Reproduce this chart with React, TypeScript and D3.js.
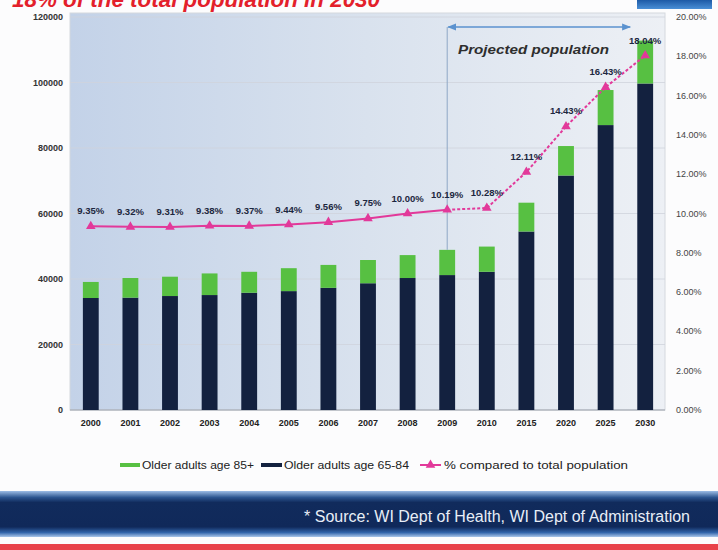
import React from 'react';
import * as d3 from 'd3';

// values
const years = ['2000', '2001', '2002', '2003', '2004', '2005', '2006', '2007', '2008', '2009', '2010', '2015', '2020', '2025', '2030'];
const age6584 = [34200, 34300, 34800, 35100, 35800, 36300, 37300, 38700, 40300, 41200, 42200, 54500, 71600, 87000, 99700];
const age85plus = [4900, 6000, 5900, 6600, 6400, 7000, 7000, 7100, 7000, 7700, 7700, 8800, 9000, 10700, 13100];
const pctOfTotal = [9.35, 9.32, 9.31, 9.38, 9.37, 9.44, 9.56, 9.75, 10.0, 10.19, 10.28, 12.11, 14.43, 16.43, 18.04];
const leftTicks = [0, 20000, 40000, 60000, 80000, 100000, 120000];
const rightTicks = [0, 2, 4, 6, 8, 10, 12, 14, 16, 18, 20];
const projectedFrom = '2009';
const projectedTo = '2030';

const W = 718;
const H = 550;
const plot = { left: 70, right: 665, top: 13, bottom: 410 };

const GREEN = '#57c042';
const NAVY = '#13213f';
const PINK = '#e2399a';

const App: React.FC = () => {
  const x = d3.scaleBand<string>()
    .domain(years)
    .range([plot.left + 1, plot.right])
    .paddingInner(0.6)
    .paddingOuter(0.3);
  const y = d3.scaleLinear().domain([0, 120000]).range([plot.bottom, 17]);
  const yp = d3.scaleLinear().domain([0, 20]).range([plot.bottom, 17]);
  const cx = (d: string) => (x(d) as number) + x.bandwidth() / 2;

  const pts: [number, number][] = years.map((d, i) => [cx(d), yp(pctOfTotal[i])]);
  const line = d3.line();
  const splitAt = years.indexOf(projectedFrom);
  const solidPath = line(pts.slice(0, splitAt + 1)) as string;
  const dashedPath = line(pts.slice(splitAt)) as string;
  const tri = d3.symbol().type(d3.symbolTriangle).size(40)() as string;

  const px0 = cx(projectedFrom);
  const px1 = cx(projectedTo) - 15;
  const pIdx = years.indexOf(projectedFrom);
  const pTop = y(age6584[pIdx] + age85plus[pIdx]);

  return (
    <div style={{ position: 'fixed', left: 0, top: 0 }}>
      <svg width={W} height={H} style={{ display: 'block', fontFamily: 'Arial, "Liberation Sans", sans-serif' }}>
        <defs>
          <linearGradient id="plotBg" x1="0" x2="1" y1="0" y2="0">
            <stop offset="0" stopColor="#c3d2e8" />
            <stop offset="0.5" stopColor="#d9e2ee" />
            <stop offset="1" stopColor="#edf0f5" />
          </linearGradient>
          <linearGradient id="band" x1="0" x2="0" y1="0" y2="1">
            <stop offset="0" stopColor="#9dbde6" />
            <stop offset="0.14" stopColor="#2c558f" />
            <stop offset="0.25" stopColor="#112b5c" />
            <stop offset="0.78" stopColor="#10295a" />
            <stop offset="0.9" stopColor="#2f62a8" />
            <stop offset="1" stopColor="#a9c6ea" />
          </linearGradient>
          <linearGradient id="topBox" x1="0" x2="0" y1="0" y2="1">
            <stop offset="0" stopColor="#1d5aa6" />
            <stop offset="1" stopColor="#4a8fd6" />
          </linearGradient>
          <marker id="arr" viewBox="0 0 10 10" refX="9" refY="5" markerWidth="6" markerHeight="6" orient="auto-start-reverse">
            <path d="M0,1 L10,5 L0,9 z" fill="#5b92cf" />
          </marker>
        </defs>

        <rect width={W} height={H} fill="#fcfcfd" />

        {/* cut-off slide title */}
        <text x={12} y={7} fill="#e3202b" fontSize={22} fontWeight="bold" fontStyle="italic"
          textLength={368} lengthAdjust="spacingAndGlyphs">18% of the total population in 2030</text>
        <rect x={637} y={0} width={75} height={9} fill="url(#topBox)" />

        {/* plot area */}
        <rect x={plot.left} y={plot.top} width={plot.right - plot.left} height={plot.bottom - plot.top}
          fill="url(#plotBg)" stroke="#d4d8de" strokeWidth={1} />
        {leftTicks.slice(1).map(t => (
          <line key={t} x1={plot.left} x2={plot.right} y1={y(t)} y2={y(t)} stroke="#cfd3dc" strokeWidth={0.8} />
        ))}
        <line x1={plot.left} x2={plot.right} y1={plot.bottom} y2={plot.bottom} stroke="#9aa0aa" strokeWidth={1} />

        {/* left axis */}
        {leftTicks.map(t => (
          <text key={t} x={63} y={y(t) + 3} textAnchor="end" fontSize={9} fontWeight="bold" fill="#333">{t}</text>
        ))}
        {/* right axis */}
        {rightTicks.map(t => (
          <text key={t} x={676} y={yp(t) + 3} fontSize={9} fill="#444">{t.toFixed(2)}%</text>
        ))}

        {/* stacked bars */}
        {years.map((d, i) => (
          <g key={d}>
            <rect x={x(d)} y={y(age6584[i])} width={x.bandwidth()} height={plot.bottom - y(age6584[i])} fill={NAVY} />
            <rect x={x(d)} y={y(age6584[i] + age85plus[i])} width={x.bandwidth()}
              height={y(age6584[i]) - y(age6584[i] + age85plus[i])} fill={GREEN} />
            <text x={cx(d)} y={426} textAnchor="middle" fontSize={9} fontWeight="bold" fill="#222">{d}</text>
          </g>
        ))}

        {/* projected population annotation */}
        <line x1={px0} x2={px0} y1={27} y2={pTop} stroke="#8ea7c6" strokeWidth={1} />
        <line x1={px0 + 1} x2={px1} y1={27} y2={27} stroke="#5b92cf" strokeWidth={1.5}
          markerStart="url(#arr)" markerEnd="url(#arr)" />
        <text x={458} y={54} fontSize={13.5} fontWeight="bold" fontStyle="italic" fill="#2e2e2e"
          textLength={151} lengthAdjust="spacingAndGlyphs">Projected population</text>

        {/* % of total line */}
        <path d={solidPath} fill="none" stroke={PINK} strokeWidth={2} />
        <path d={dashedPath} fill="none" stroke={PINK} strokeWidth={2} strokeDasharray="3,2" />
        {pts.map(([px, py], i) => (
          <g key={years[i]}>
            <path d={tri} transform={`translate(${px},${py})`} fill={PINK} />
            <text x={px} y={py - 12} textAnchor="middle" fontSize={9.5} fontWeight="bold" fill="#1c2740">
              {pctOfTotal[i].toFixed(2)}%
            </text>
          </g>
        ))}

        {/* legend */}
        <rect x={120} y={463} width={20} height={4} fill={GREEN} />
        <text x={142} y={469} fontSize={10} fill="#222" textLength={112} lengthAdjust="spacingAndGlyphs">Older adults age 85+</text>
        <rect x={261} y={463} width={21} height={4} fill={NAVY} />
        <text x={284} y={469} fontSize={10} fill="#222" textLength={125} lengthAdjust="spacingAndGlyphs">Older adults age 65-84</text>
        <line x1={420} x2={441} y1={465} y2={465} stroke={PINK} strokeWidth={2} />
        <path d={tri} transform="translate(430.5,465)" fill={PINK} />
        <text x={444} y={469} fontSize={10} fill="#222" textLength={184} lengthAdjust="spacingAndGlyphs">% compared to total population</text>

        {/* source band */}
        <rect x={0} y={491} width={W} height={46} fill="url(#band)" />
        <text x={690} y={522} textAnchor="end" fontSize={16} fill="#e8eef7">* Source: WI Dept of Health, WI Dept of Administration</text>
        <rect x={0} y={544} width={W} height={6} fill="#e8424a" />
      </svg>
    </div>
  );
};

export default App;
